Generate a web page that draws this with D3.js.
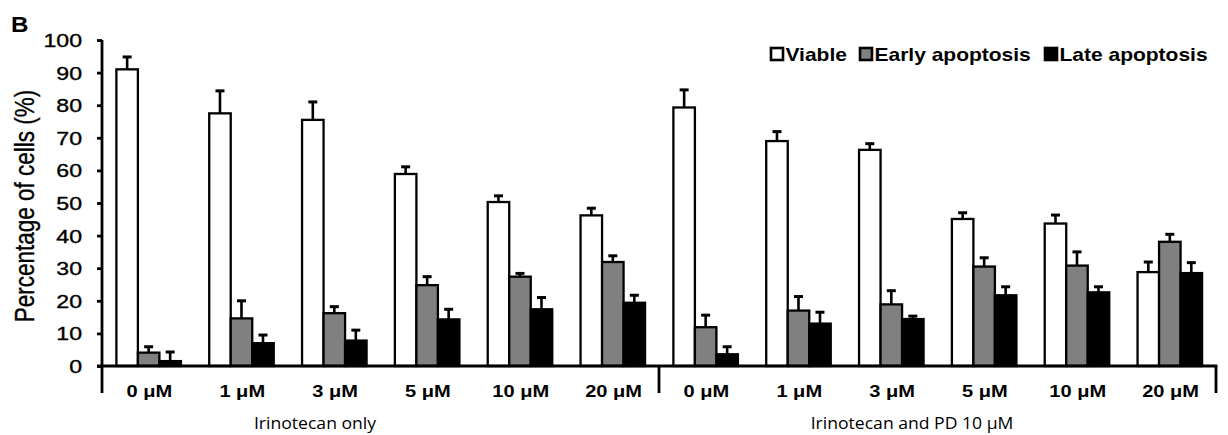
<!DOCTYPE html>
<html>
<head>
<meta charset="utf-8">
<script src="https://cdn.jsdelivr.net/npm/d3@7"></script>
<style>
  html, body { margin: 0; padding: 0; background: #fff; }
  svg { display: block; }
</style>
</head>
<body>
<svg id="chart" width="1228" height="435" font-family="Liberation Sans, Arial, sans-serif"></svg>
<script>
// ---- data ----
const doses = ["0 μM", "1 μM", "3 μM", "5 μM", "10 μM", "20 μM",
               "0 μM", "1 μM", "3 μM", "5 μM", "10 μM", "20 μM"];
const groups = ["Irinotecan only", "Irinotecan and PD 10 μM"];
const seriesNames = ["Viable", "Early apoptosis", "Late apoptosis"];
const viable    = [91.0, 77.5, 75.5, 58.9, 50.3, 46.2, 79.3, 69.0, 66.3, 45.1, 43.7, 28.8];
const viableErr = [3.8, 6.9, 5.5, 2.2, 1.9, 2.2, 5.4, 2.9, 1.9, 1.9, 2.6, 3.1];
const early     = [4.1, 14.6, 16.2, 24.8, 27.4, 31.9, 11.9, 17.0, 18.9, 30.5, 30.8, 38.1];
const earlyErr  = [1.8, 5.4, 2.0, 2.6, 1.0, 1.9, 3.7, 4.3, 4.2, 2.7, 4.2, 2.3];
const late      = [1.5, 7.0, 7.8, 14.3, 17.4, 19.4, 3.6, 13.0, 14.4, 21.7, 22.6, 28.5];
const lateErr   = [2.8, 2.5, 3.2, 3.1, 3.6, 2.3, 2.3, 3.5, 0.9, 2.6, 1.7, 3.2];
const yTicks = [0, 10, 20, 30, 40, 50, 60, 70, 80, 90, 100];
const panelLabel = "B";
const yTitle = "Percentage of cells (%)";

// ---- layout ----
const X0 = 102, X1 = 1216, Y0 = 366, Y1 = 40;
const colors = ["#ffffff", "#808080", "#000000"];
const values = [viable, early, late];
const errs = [viableErr, earlyErr, lateErr];
const groupCenters = [315, 912];

const svg = d3.select("#chart");

const x = d3.scaleBand().domain(d3.range(doses.length)).range([X0, X1]).padding(0);
const bw = x.bandwidth();
const xs = d3.scaleBand().domain(seriesNames).range([bw * 0.155, bw * 0.85]).padding(0);
const y = d3.scaleLinear().domain([0, 100]).range([Y0, Y1]);

const rows = [];
doses.forEach((d, i) => {
  seriesNames.forEach((s, k) => {
    rows.push({ i, s, k, v: values[k][i], e: errs[k][i] });
  });
});

const g = svg.append("g");
const cx = d => x(d.i) + xs(d.s) + xs.bandwidth() / 2;

// error bars
const eb = g.selectAll(".err").data(rows).enter().append("g");
eb.append("line")
  .attr("x1", cx).attr("x2", cx)
  .attr("y1", d => y(d.v))
  .attr("y2", d => y(d.v + d.e))
  .attr("stroke", "#000").attr("stroke-width", 2.6);
eb.append("line")
  .attr("x1", d => cx(d) - 4.5)
  .attr("x2", d => cx(d) + 4.5)
  .attr("y1", d => y(d.v + d.e))
  .attr("y2", d => y(d.v + d.e))
  .attr("stroke", "#000").attr("stroke-width", 3);

// bars
g.selectAll(".bar").data(rows).enter().append("rect")
  .attr("x", d => x(d.i) + xs(d.s))
  .attr("width", xs.bandwidth())
  .attr("y", d => y(d.v))
  .attr("height", d => y(0) - y(d.v))
  .attr("fill", d => colors[d.k])
  .attr("stroke", "#000").attr("stroke-width", 2.3);

// y axis
const yAxis = d3.axisLeft(y).tickValues(yTicks).tickSize(5).tickSizeOuter(0).tickFormat(d3.format("d"));
const ya = svg.append("g").attr("transform", `translate(${X0},0)`).call(yAxis);
ya.attr("font-family", null).attr("font-size", null);
ya.select(".domain").attr("stroke-width", 2.8).attr("d", `M0,${Y1}V${Y0}`);
ya.selectAll(".tick line").attr("stroke-width", 2.8);
ya.selectAll(".tick text")
  .attr("x", null).attr("dy", null)
  .attr("text-anchor", "end")
  .attr("font-size", 18.5)
  .attr("fill", "#000")
  .attr("stroke", "#000").attr("stroke-width", 0.35)
  .attr("transform", "translate(-20,6.5) scale(1.25,1)");

// x axis baseline
svg.append("line").attr("x1", X0 - 5).attr("x2", X1 + 1.4).attr("y1", Y0).attr("y2", Y0)
  .attr("stroke", "#000").attr("stroke-width", 2.8);

// group separator ticks
const sepIdx = [0, 6, 12];
svg.selectAll(".sep").data(sepIdx).enter().append("line")
  .attr("x1", d => X0 + d * bw).attr("x2", d => X0 + d * bw)
  .attr("y1", Y0).attr("y2", Y0 + 27)
  .attr("stroke", "#000").attr("stroke-width", 2.8);

// dose labels
svg.selectAll(".dose").data(doses).enter().append("text")
  .attr("transform", (d, i) => `translate(${x(i) + bw / 2 + 1},397) scale(1.18,1)`)
  .attr("text-anchor", "middle")
  .attr("font-size", 17).attr("font-weight", "bold")
  .text(d => d);

// group labels
svg.selectAll(".grp").data(groups).enter().append("text")
  .attr("transform", (d, i) => `translate(${groupCenters[i]},429) scale(1.1,1)`)
  .attr("text-anchor", "middle")
  .attr("font-size", 16)
  .attr("font-family", "Open Sans, Liberation Sans, sans-serif")
  .text(d => d);

// y title
svg.append("text")
  .attr("transform", `translate(34,206) scale(1.2,1) rotate(-90)`)
  .attr("text-anchor", "middle")
  .attr("font-size", 22.5)
  .attr("stroke", "#000").attr("stroke-width", 0.3)
  .text(yTitle);

// panel label
svg.append("text").attr("x", 11).attr("y", 32)
  .attr("font-size", 22).attr("font-weight", "bold")
  .attr("transform", "translate(11,32) scale(1.1,1) translate(-11,-32)")
  .text(panelLabel);

// legend
const legX = [770, 859, 1044];
const lg = svg.selectAll(".leg").data(seriesNames).enter().append("g");
lg.append("rect")
  .attr("x", (d, i) => legX[i] + 1).attr("y", 48)
  .attr("width", 12).attr("height", 12)
  .attr("fill", (d, i) => colors[i])
  .attr("stroke", "#000").attr("stroke-width", 2.6);
lg.append("text")
  .attr("transform", (d, i) => `translate(${legX[i] + 15.5},60.5) scale(1.2,1)`)
  .attr("font-size", 17.5).attr("font-weight", "bold")
  .text(d => d);
</script>
</body>
</html>
